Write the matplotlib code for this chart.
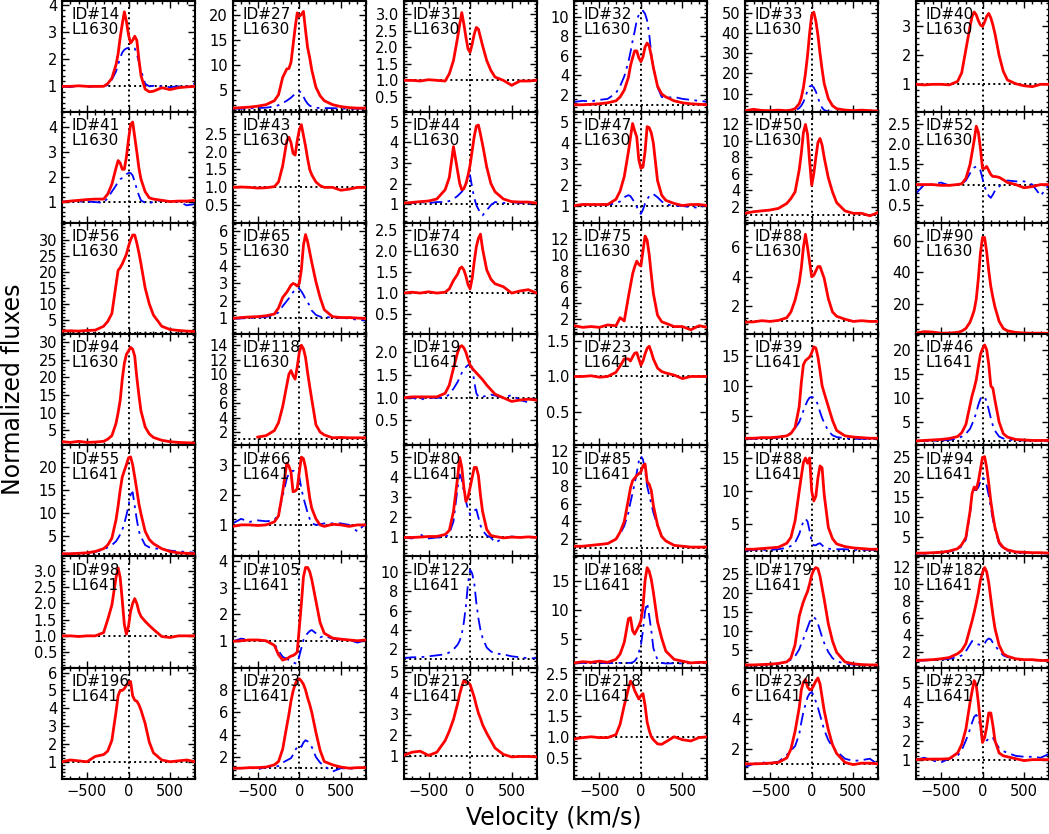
import numpy as np
import matplotlib
matplotlib.use("Agg")
import matplotlib.pyplot as plt
from matplotlib.ticker import MultipleLocator, AutoMinorLocator, FormatStrFormatter

nan = np.nan

# velocity grid (km/s) shared by all profiles
V = [-800, -700, -600, -500, -400, -300,
     -250, -200, -150, -125, -100, -75, -50, -25, 0, 25, 50, 75, 100, 125, 150, 200, 250,
     300, 400, 500, 600, 700, 800]

# ---- L1630 ----
red_14_1630 = [1.0, 1.0, 1.02, 1.0, 1.0, 1.0,
               1.1, 1.3, 1.8, 2.2, 2.8, 3.3, 3.75, 3.4, 2.9, 2.6, 2.7, 2.85, 2.7, 2.0, 1.4, 0.9, 0.8,
               0.82, 0.95, 0.88, 0.95, 0.98, 1.0]
blue_14_1630 = [1.0, 0.97, 1.03, 0.98, 1.0, 1.0,
                1.05, 1.25, 1.55, 1.8, 2.05, 2.25, 2.35, 2.4, 2.42, 2.45, 2.45, 2.4, 2.2, 1.9, 1.6, 1.1, 1.0,
                1.02, 1.0, 0.97, 1.0, 1.0, 1.1]
red_27_1630 = [1.3, 1.4, 1.5, 1.7, 2.0, 2.8,
               4.0, 7.5, 9.2, 9.3, 10.5, 14.0, 17.5, 20.5, 19.8, 20.2, 20.8, 17.0, 13.5, 11.5, 9.0, 5.5, 3.8,
               2.8, 2.0, 1.6, 1.4, 1.3, 1.3]
blue_27_1630 = [1.2, 1.2, 1.3, 1.3, 1.4, 1.6,
                1.9, 2.3, 2.8, 3.1, 3.4, 3.8, 4.2, 4.5, 4.7, 4.4, 3.6, 2.8, 2.2, 1.8, 1.6, 1.4, 1.3,
                1.3, 1.3, 1.2, 1.2, 1.2, 1.2]
red_31_1630 = [1.0, 1.0, 0.98, 1.02, 1.0, 0.98,
               1.2, 1.6, 2.3, 2.7, 3.05, 2.7, 2.3, 1.95, 1.85, 2.1, 2.4, 2.6, 2.55, 2.3, 2.05, 1.6, 1.3,
               1.1, 1.0, 0.85, 0.98, 0.98, 1.0]
red_32_1630 = [1.0, 1.0, 1.05, 1.1, 1.2, 1.4,
               1.8, 2.5, 3.8, 5.0, 5.8, 6.5, 6.5, 5.8, 5.4, 5.9, 6.9, 7.3, 7.0, 6.0, 4.8, 2.9, 2.1,
               1.8, 1.4, 1.2, 1.1, 1.05, 1.0]
blue_32_1630 = [1.3, 1.4, 1.35, 1.5, 1.6, 2.2,
                2.9, 3.9, 5.4, 6.4, 7.5, 8.5, 9.6, 10.2, 10.5, 10.6, 10.3, 9.6, 8.2, 6.2, 4.8, 2.8, 1.8,
                1.7, 1.8, 1.6, 1.5, 1.4, 1.3]
red_33_1630 = [1.5, 2.2, 1.6, 1.5, 1.8, 1.5,
               1.8, 2.5, 5.0, 8.0, 13.0, 20.0, 29.0, 40.0, 49.0, 50.5, 46.0, 39.0, 30.0, 22.0, 15.0, 7.5, 4.0,
               2.5, 1.8, 1.5, 1.8, 1.5, 1.3]
blue_33_1630 = [1.0, 1.0, 1.0, 1.0, 1.0, 1.0,
                1.1, 1.4, 2.8, 4.0, 5.8, 8.5, 11.5, 13.5, 14.0, 13.0, 11.0, 8.0, 5.0, 3.0, 1.8, 1.1, 1.0,
                1.0, 1.0, 1.0, 1.0, 1.0, 1.0]
red_40_1630 = [1.0, 0.98, 1.0, 1.0, 0.98, 1.1,
               1.4, 2.2, 3.0, 3.35, 3.5, 3.4, 3.2, 3.05, 3.0, 3.15, 3.35, 3.45, 3.3, 3.05, 2.75, 2.0, 1.45,
               1.15, 1.02, 0.95, 0.92, 1.0, 1.0]
red_41_1630 = [0.98, 1.02, 1.05, 1.08, 1.1, 1.1,
               1.3, 1.7, 2.35, 2.65, 2.55, 2.3, 2.3, 2.8, 3.5, 4.1, 4.2, 3.6, 3.0, 2.35, 1.9, 1.4, 1.15,
               1.1, 1.05, 1.0, 1.02, 1.02, 1.05]
blue_41_1630 = [1.0, 1.02, 1.0, 1.0, 0.98, 0.95,
                1.15, 1.4, 1.65, 1.8, 1.9, 1.95, 2.0, 2.1, 2.15, 2.15, 2.05, 1.8, 1.5, 1.25, 1.05, 0.95, 0.92,
                1.0, 1.05, 1.0, 1.0, 0.85, 0.9]
red_43_1630 = [1.0, 1.01, 1.0, 0.98, 0.99, 1.02,
               1.15, 1.6, 2.3, 2.4, 2.25, 1.95, 1.9, 2.3, 2.6, 2.75, 2.45, 2.15, 1.8, 1.5, 1.35, 1.15, 1.05,
               1.0, 1.0, 0.92, 0.95, 1.0, 1.0]
red_44_1630 = [1.05, 1.08, 1.12, 1.15, 1.25, 1.7,
               2.3, 3.8, 2.6, 2.0, 1.7, 1.75, 2.0, 2.4, 2.9, 3.6, 4.3, 4.8, 4.85, 4.4, 3.9, 2.8, 2.0,
               1.6, 1.25, 1.12, 1.1, 1.1, 1.05]
blue_44_1630 = [1.05, 1.05, 1.1, 1.05, 1.1, 1.1,
                1.15, 1.25, 1.4, 1.5, 1.6, 1.75, 1.95, 2.3, 2.4, 1.8, 1.3, 0.95, 0.75, 0.55, 0.45, 0.7, 0.95,
                1.1, 1.05, 1.1, 1.05, 1.05, 0.9]
red_47_1630 = [1.0, 1.05, 1.05, 1.05, 1.05, 1.3,
               1.7, 2.4, 3.6, 4.3, 4.95, 4.6, 4.3, 3.2, 2.8, 2.85, 3.6, 4.8, 4.75, 4.5, 4.0, 2.2, 1.5,
               1.25, 1.1, 1.0, 1.05, 1.05, 1.0]
blue_47_1630 = [1.0, 1.05, 1.05, 1.05, 1.05, 1.1,
                1.2, 1.4, 1.5, 1.45, 1.3, 1.15, 0.95, 0.7, 0.6, 0.8, 1.1, 1.3, 1.45, 1.55, 1.55, 1.4, 1.2,
                1.05, 1.0, 0.98, 0.92, 0.9, 1.05]
red_50_1630 = [1.2, 1.4, 1.5, 1.6, 1.8, 2.4,
               3.0, 3.8, 6.5, 8.5, 11.0, 12.0, 10.8, 7.5, 4.6, 6.0, 8.0, 9.8, 10.3, 9.5, 8.0, 5.5, 3.8,
               2.5, 1.5, 1.2, 1.2, 0.9, 1.3]
red_52_1630 = [1.0, 1.0, 1.0, 0.98, 0.98, 1.0,
               1.02, 1.15, 1.5, 1.8, 2.1, 2.45, 2.3, 1.9, 1.4, 1.4, 1.45, 1.35, 1.25, 1.2, 1.2, 1.18, 1.12,
               1.05, 1.0, 0.92, 0.95, 1.0, 1.0]
blue_52_1630 = [0.78, 1.0, 1.0, 1.05, 0.98, 1.0,
                1.02, 1.1, 1.28, 1.35, 1.42, 1.45, 1.43, 1.35, 1.15, 0.95, 0.82, 0.72, 0.67, 0.75, 0.85, 0.95, 1.05,
                1.1, 1.08, 1.08, 1.0, 0.72, 1.0]
red_56_1630 = [1.5, 1.6, 1.5, 1.7, 1.8, 3.0,
               4.5, 7.0, 16.0, 20.5, 21.3, 22.5, 24.0, 25.5, 28.0, 30.0, 31.5, 31.5, 29.0, 26.0, 22.5, 15.0, 10.0,
               6.5, 3.0, 2.0, 1.7, 1.5, 1.4]
red_65_1630 = [1.0, 1.05, 1.08, 1.1, 1.15, 1.25,
               1.6, 2.2, 2.5, 2.7, 2.9, 3.0, 2.95, 2.85, 3.0, 3.8, 5.2, 5.8, 5.4, 4.8, 4.2, 3.1, 2.2,
               1.5, 1.1, 1.05, 1.05, 1.02, 1.0]
blue_65_1630 = [0.98, 1.0, 1.02, 1.05, 1.08, 1.2,
                1.35, 1.7, 2.0, 2.15, 2.35, 2.5, 2.65, 2.75, 2.7, 2.55, 2.35, 2.1, 1.95, 1.7, 1.45, 1.2, 1.1,
                1.08, 1.05, 1.03, 1.0, 0.92, 0.88]
red_74_1630 = [1.0, 1.02, 1.0, 1.03, 1.0, 1.02,
               1.1, 1.3, 1.45, 1.58, 1.62, 1.55, 1.4, 1.2, 1.1, 1.35, 1.75, 2.1, 2.3, 2.4, 2.05, 1.55, 1.33,
               1.22, 1.15, 1.0, 1.05, 1.08, 1.0]
red_75_1630 = [1.2, 1.0, 1.1, 1.0, 1.3, 1.2,
               2.2, 1.8, 4.8, 6.2, 7.6, 8.5, 9.2, 8.8, 8.6, 10.5, 12.3, 11.8, 10.0, 7.5, 5.2, 2.5, 1.7,
               1.5, 1.1, 1.1, 0.7, 1.2, 1.0]
red_88_1630 = [0.9, 0.92, 1.0, 0.95, 1.02, 1.2,
               1.6, 2.4, 3.6, 4.6, 6.0, 6.9, 6.0, 5.0, 4.0, 4.1, 4.4, 4.7, 4.7, 4.3, 3.9, 2.5, 1.6,
               1.3, 1.1, 0.95, 1.0, 0.95, 0.95]
red_90_1630 = [1.5, 2.5, 2.2, 1.5, 1.6, 2.0,
               2.8, 4.5, 8.5, 12.0, 16.0, 23.0, 36.0, 52.0, 62.0, 62.0, 53.0, 41.0, 31.0, 24.0, 18.0, 9.0, 4.5,
               3.0, 2.0, 1.6, 1.5, 1.5, 1.4]
red_94_1630 = [1.8, 1.6, 1.9, 1.6, 1.7, 1.9,
               2.5, 3.5, 7.0, 10.0, 13.5, 19.5, 24.0, 26.5, 27.5, 28.5, 28.0, 26.0, 20.0, 15.0, 10.5, 6.0, 4.0,
               3.0, 2.2, 1.8, 1.6, 1.5, 1.4]
red_118_1630 = [nan, nan, nan, 1.3, 1.5, 2.2,
                3.3, 5.5, 8.5, 10.0, 10.5, 9.8, 9.3, 11.0, 13.0, 14.0, 13.5, 12.3, 10.2, 8.3, 6.5, 3.0, 2.0,
                1.6, 1.2, 1.25, 1.2, 1.2, 1.2]

# ---- L1641 ----
red_19_1641 = [1.0, 1.02, 1.02, 1.02, 1.02, 1.1,
               1.28, 1.65, 2.0, 2.12, 2.15, 2.1, 2.0, 1.85, 1.72, 1.65, 1.6, 1.55, 1.5, 1.45, 1.4, 1.28, 1.18,
               1.08, 1.0, 0.92, 0.95, 0.97, 0.95]
blue_19_1641 = [1.0, 1.0, 0.96, 1.0, 1.0, 1.0,
                1.08, 1.2, 1.35, 1.45, 1.55, 1.62, 1.68, 1.72, 1.72, 1.68, 1.35, 1.1, 1.02, 1.0, 1.02, 1.05, 1.07,
                1.05, 1.0, 1.06, 0.95, 0.9, 1.04]
red_23_1641 = [1.0, 1.0, 1.01, 0.99, 1.0, 1.06,
               1.15, 1.25, 1.25, 1.22, 1.28, 1.33, 1.34, 1.25, 1.16, 1.22, 1.32, 1.4, 1.43, 1.35, 1.25, 1.12, 1.07,
               1.05, 1.02, 0.97, 1.0, 1.0, 1.0]
red_39_1641 = [1.2, 1.2, 1.3, 1.3, 1.4, 1.6,
               2.0, 3.0, 6.5, 10.5, 13.5, 14.2, 14.5, 14.8, 15.5, 16.5, 16.3, 14.8, 12.5, 10.0, 8.8, 6.5, 4.2,
               2.5, 1.6, 1.4, 1.3, 1.2, 1.2]
blue_39_1641 = [1.1, 1.1, 1.2, 1.2, 1.3, 1.7,
                2.1, 2.9, 3.9, 4.8, 5.8, 6.7, 7.5, 8.0, 8.1, 8.0, 7.6, 6.8, 5.6, 4.6, 3.8, 2.4, 1.7,
                1.4, 1.2, 1.1, 1.1, 1.1, 1.1]
red_46_1641 = [1.1, 1.2, 1.3, 1.4, 1.6, 2.0,
               2.8, 4.5, 8.5, 10.5, 12.0, 13.8, 16.5, 19.0, 20.2, 21.0, 20.0, 17.0, 12.5, 12.0, 9.5, 5.0, 2.6,
               1.9, 1.4, 1.3, 1.2, 1.2, 1.2]
blue_46_1641 = [1.1, 1.1, 1.1, 1.2, 1.3, 1.6,
                2.0, 2.6, 3.6, 4.6, 5.6, 7.0, 8.6, 9.8, 10.4, 10.2, 9.3, 7.6, 5.8, 4.3, 3.2, 2.0, 1.6,
                1.4, 1.2, 1.2, 1.2, 1.1, 1.1]
red_55_1641 = [1.1, 1.1, 1.2, 1.3, 1.6, 2.2,
               3.0, 4.5, 8.5, 11.5, 15.0, 17.8, 19.2, 20.5, 22.0, 22.2, 20.5, 17.8, 15.0, 12.0, 9.8, 6.0, 4.2,
               3.3, 2.2, 1.6, 1.3, 1.2, 1.1]
blue_55_1641 = [1.1, 1.1, 1.2, 1.3, 1.5, 2.0,
                2.5, 3.0, 3.8, 4.5, 5.3, 6.3, 7.7, 9.5, 11.5, 14.0, 14.5, 11.5, 8.5, 6.0, 4.8, 3.0, 2.5,
                2.3, 2.1, 1.8, 1.6, 1.5, 1.3]
red_66_1641 = [0.95, 1.0, 1.0, 0.98, 1.0, 1.1,
               1.3, 2.1, 3.05, 2.95, 2.75, 2.1, 2.12, 2.2, 2.75, 3.25, 3.2, 2.9, 2.4, 1.9, 1.55, 1.2, 1.0,
               0.95, 1.02, 1.0, 0.95, 1.0, 1.0]
blue_66_1641 = [1.05, 1.2, 1.1, 1.15, 1.12, 1.15,
                1.4, 1.95, 2.55, 2.7, 2.78, 2.8, 2.78, 2.75, 2.6, 2.2, 1.9, 1.65, 1.4, 1.2, 1.05, 1.0, 1.02,
                1.05, 1.05, 1.05, 1.0, 0.78, 1.05]
red_80_1641 = [1.0, 1.0, 1.02, 1.05, 1.05, 1.15,
               1.35, 2.3, 4.0, 5.0, 4.5, 3.5, 2.8, 3.0, 3.5, 4.0, 4.5, 4.5, 4.1, 3.1, 2.3, 1.4, 1.1,
               1.05, 0.98, 1.02, 1.0, 1.03, 1.0]
blue_80_1641 = [1.0, 0.95, 1.15, 0.95, 1.0, 1.0,
                1.2, 1.8, 3.5, 4.15, 3.9, 3.3, 2.8, 2.4, 2.15, 2.2, 2.35, 2.4, 2.0, 1.6, 1.35, 1.1, 1.0,
                0.75, 0.95, 1.05, 1.0, 1.05, 1.0]
red_85_1641 = [1.2, 1.2, 1.3, 1.4, 1.5, 2.0,
               2.8, 4.0, 6.5, 7.8, 8.6, 8.9, 9.2, 9.4, 9.6, 10.3, 10.5, 8.5, 8.2, 7.5, 5.8, 3.6, 2.3,
               1.8, 1.3, 1.2, 1.1, 1.1, 1.1]
blue_85_1641 = [1.2, 1.2, 1.3, 1.4, 1.5, 2.0,
                2.6, 3.5, 5.0, 6.2, 7.2, 8.3, 9.5, 10.8, 11.4, 11.0, 9.8, 8.0, 7.0, 6.0, 5.0, 3.5, 2.3,
                1.8, 1.3, 1.2, 1.1, 1.1, 1.1]
red_88_1641 = [1.2, 1.2, 1.3, 1.4, 1.5, 2.1,
               3.0, 5.5, 10.0, 12.2, 14.3, 15.0, 14.2, 15.0, 10.0, 8.5, 9.2, 12.0, 13.8, 13.5, 9.5, 4.5, 2.8,
               2.0, 1.6, 1.4, 1.3, 1.2, 1.2]
blue_88_1641 = [1.0, 1.1, 1.1, 1.1, 1.2, 1.4,
                1.7, 2.2, 3.5, 4.5, 5.4, 5.8, 5.4, 4.0, 2.3, 1.8, 1.8, 2.0, 2.1, 1.8, 1.5, 1.3, 1.2,
                1.2, 1.2, 1.1, 1.1, 1.1, 1.1]
red_94_1641 = [1.1, 1.1, 1.2, 1.3, 1.6, 2.2,
               3.2, 5.0, 11.5, 16.0, 17.6, 17.0, 19.0, 22.0, 25.0, 25.2, 22.5, 18.5, 14.0, 10.5, 7.5, 3.8, 2.5,
               1.9, 1.4, 1.3, 1.2, 1.2, 1.1]
blue_94_1641 = [1.0, 1.0, 1.1, 1.2, 1.5, 2.0,
                2.8, 4.5, 11.0, 15.5, 17.0, 16.8, 17.5, 19.0, 20.0, 19.5, 18.0, 15.5, 12.5, 9.5, 7.0, 3.5, 2.2,
                1.7, 1.3, 1.2, 1.1, 1.1, 1.0]
red_98_1641 = [1.0, 1.0, 0.98, 1.0, 1.0, 1.1,
               1.5, 1.95, 2.8, 3.1, 2.8, 2.1, 1.35, 1.05, 1.3, 1.75, 2.0, 2.15, 2.0, 1.75, 1.6, 1.45, 1.32,
               1.2, 0.98, 0.95, 1.0, 1.0, 1.0]
red_105_1641 = [1.0, 1.02, 1.05, 1.05, 1.02, 0.85,
                0.5, 0.3, 0.35, 0.4, 0.45, 0.47, 0.52, 0.6, 1.5, 2.4, 3.4, 3.75, 3.75, 3.6, 3.3, 2.5, 1.7,
                1.3, 1.12, 1.08, 1.05, 1.02, 1.05]
blue_105_1641 = [1.0, 1.1, 1.05, 1.05, 1.0, 0.9,
                 0.65, 0.42, 0.35, 0.3, 0.26, 0.22, 0.18, 0.17, 0.45, 0.75, 1.05, 1.2, 1.3, 1.38, 1.42, 1.3, 1.15,
                 1.2, 1.1, 1.05, 1.05, 0.95, 1.05]
blue_122_1641 = [1.1, 1.2, 1.2, 1.3, 1.4, 1.5,
                 1.7, 2.0, 2.5, 2.9, 3.6, 4.8, 6.5, 8.8, 10.2, 9.8, 8.8, 6.8, 5.2, 4.0, 3.2, 2.2, 1.8,
                 1.6, 1.5, 1.3, 1.2, 1.1, 1.1]
red_168_1641 = [1.0, 1.2, 1.1, 1.3, 1.1, 1.6,
                2.5, 4.5, 8.5, 8.7, 6.5, 5.9, 6.6, 7.3, 8.2, 10.5, 15.0, 17.2, 16.6, 15.2, 13.0, 8.0, 5.2,
                3.0, 1.6, 1.3, 1.0, 1.1, 1.1]
blue_168_1641 = [0.9, 1.0, 0.95, 1.0, 0.95, 1.0,
                 1.0, 1.0, 1.0, 1.0, 1.1, 1.3, 1.8, 2.8, 4.0, 6.5, 9.8, 11.2, 9.0, 6.5, 3.5, 1.5, 1.0,
                 0.9, 0.95, 0.9, 0.95, 1.0, 0.95]
red_179_1641 = [1.2, 1.2, 1.3, 1.4, 1.6, 2.0,
                3.0, 6.5, 14.0, 16.0, 17.8, 19.2, 20.5, 22.5, 24.8, 26.2, 26.8, 26.5, 24.5, 21.5, 18.5, 12.0, 7.5,
                4.5, 2.0, 1.5, 1.3, 1.2, 1.2]
blue_179_1641 = [1.1, 1.1, 1.2, 1.3, 1.5, 2.0,
                 2.6, 3.5, 5.3, 6.8, 8.0, 9.5, 11.0, 12.5, 13.5, 13.8, 13.2, 12.0, 10.3, 8.5, 7.0, 4.6, 3.0,
                 2.2, 1.5, 1.3, 1.2, 1.1, 1.1]
red_182_1641 = [1.0, 1.05, 1.1, 1.2, 1.35, 1.8,
                2.2, 3.0, 4.8, 5.7, 6.7, 7.8, 9.0, 10.5, 11.4, 12.0, 11.5, 10.2, 8.3, 6.4, 4.8, 2.8, 1.8,
                1.5, 1.2, 1.1, 1.1, 1.0, 1.0]
blue_182_1641 = [1.0, 1.0, 1.05, 1.1, 1.2, 1.4,
                 1.6, 2.1, 2.9, 3.3, 3.2, 3.0, 2.9, 2.85, 2.8, 3.0, 3.4, 3.6, 3.5, 3.1, 2.8, 2.1, 1.6,
                 1.4, 1.2, 1.1, 1.05, 1.0, 1.0]
red_196_1641 = [1.0, 1.1, 1.05, 1.0, 1.3, 1.4,
                1.6, 2.2, 3.8, 4.7, 5.0, 5.0, 5.1, 5.3, 5.45, 5.5, 4.7, 4.45, 4.4, 4.2, 3.9, 3.15, 2.1,
                1.5, 1.1, 1.0, 1.05, 1.1, 1.0]
red_203_1641 = [1.0, 1.0, 1.05, 1.05, 1.1, 1.3,
                1.6, 2.7, 4.8, 5.8, 7.0, 7.9, 8.5, 8.9, 9.0, 8.8, 8.5, 8.0, 7.3, 6.7, 6.0, 4.2, 2.6,
                1.6, 1.3, 1.1, 1.0, 1.05, 1.05]
blue_203_1641 = [1.0, 1.0, 1.05, 0.9, 1.1, 1.1,
                 1.2, 1.5, 1.7, 1.8, 1.9, 2.2, 2.6, 2.9, 3.1, 2.9, 3.3, 3.5, 3.4, 3.2, 2.9, 2.0, 1.5,
                 1.2, 0.7, 1.0, 0.95, 1.0, 1.05]
red_213_1641 = [1.05, 1.2, 1.25, 1.05, 1.2, 1.75,
                2.2, 2.75, 3.5, 3.95, 4.3, 4.6, 4.5, 4.5, 4.4, 4.1, 3.8, 3.4, 3.05, 2.8, 2.5, 2.1, 1.75,
                1.4, 1.1, 0.98, 1.0, 1.0, 0.98]
red_218_1641 = [0.95, 0.98, 1.0, 0.98, 0.98, 1.05,
                1.3, 1.75, 2.15, 2.33, 2.25, 2.1, 2.0, 1.9, 1.98, 2.03, 1.75, 1.35, 1.15, 1.0, 0.93, 0.83, 0.82,
                0.88, 1.0, 0.93, 0.9, 0.98, 1.0]
red_234_1641 = [1.0, 1.0, 1.02, 1.05, 1.1, 1.4,
                2.0, 3.2, 4.8, 6.0, 6.5, 6.7, 6.2, 6.0, 6.05, 6.3, 6.6, 6.8, 6.4, 5.5, 4.6, 3.3, 2.3,
                1.7, 1.1, 0.95, 1.05, 1.05, 1.0]
blue_234_1641 = [0.8, 1.0, 1.1, 1.05, 1.15, 1.6,
                 1.9, 2.2, 3.0, 3.8, 4.5, 5.0, 5.5, 5.75, 5.85, 5.6, 5.2, 4.8, 4.3, 3.8, 3.3, 2.6, 2.15,
                 1.85, 1.35, 1.2, 1.25, 1.35, 0.95]
red_237_1641 = [1.0, 1.02, 1.03, 1.03, 1.05, 1.35,
                1.8, 2.6, 4.0, 4.6, 5.15, 4.9, 4.0, 2.9, 1.9, 2.15, 2.7, 3.45, 3.45, 2.8, 2.0, 1.35, 1.2,
                1.15, 1.05, 0.95, 1.0, 1.0, 1.0]
blue_237_1641 = [1.0, 1.1, 0.95, 0.85, 1.05, 1.2,
                 1.5, 2.0, 2.6, 2.95, 3.25, 3.35, 3.2, 2.7, 1.95, 1.85, 2.0, 2.1, 2.2, 2.15, 1.95, 1.6, 1.45,
                 1.35, 1.2, 1.15, 1.15, 1.1, 1.3]

# panel labels, row by row
ids = [14, 27, 31, 32, 33, 40,
       41, 43, 44, 47, 50, 52,
       56, 65, 74, 75, 88, 90,
       94, 118, 19, 23, 39, 46,
       55, 66, 80, 85, 88, 94,
       98, 105, 122, 168, 179, 182,
       196, 203, 213, 218, 234, 237]
clouds = ["L1630"] * 20 + ["L1641"] * 22

reds = [red_14_1630, red_27_1630, red_31_1630, red_32_1630, red_33_1630, red_40_1630,
        red_41_1630, red_43_1630, red_44_1630, red_47_1630, red_50_1630, red_52_1630,
        red_56_1630, red_65_1630, red_74_1630, red_75_1630, red_88_1630, red_90_1630,
        red_94_1630, red_118_1630, red_19_1641, red_23_1641, red_39_1641, red_46_1641,
        red_55_1641, red_66_1641, red_80_1641, red_85_1641, red_88_1641, red_94_1641,
        red_98_1641, red_105_1641, None, red_168_1641, red_179_1641, red_182_1641,
        red_196_1641, red_203_1641, red_213_1641, red_218_1641, red_234_1641, red_237_1641]
blues = [blue_14_1630, blue_27_1630, None, blue_32_1630, blue_33_1630, None,
         blue_41_1630, None, blue_44_1630, blue_47_1630, None, blue_52_1630,
         None, blue_65_1630, None, None, None, None,
         None, None, blue_19_1641, None, blue_39_1641, blue_46_1641,
         blue_55_1641, blue_66_1641, blue_80_1641, blue_85_1641, blue_88_1641, blue_94_1641,
         None, blue_105_1641, blue_122_1641, blue_168_1641, blue_179_1641, blue_182_1641,
         None, blue_203_1641, None, None, blue_234_1641, blue_237_1641]

# y ranges and y tick values for each panel
yranges = [(0.05, 4.15), (0.5, 22.9), (0.04, 3.4), (0.25, 11.6), (0.8, 56), (0.04, 3.88),
           (0.13, 4.6), (0.0, 3.1), (0.07, 5.48), (0.15, 5.5), (0.0, 13.5), (0.04, 2.8),
           (0.5, 35.2), (0.09, 6.45), (0.02, 2.66), (0.14, 13.9), (0.07, 7.66), (0.8, 71),
           (0.75, 32.2), (0.15, 15.5), (-0.05, 2.4), (0.02, 1.6), (0.0, 18.6), (0.17, 23.2),
           (0.5, 24.7), (-0.05, 3.64), (0.05, 5.6), (0.04, 12.6), (0.1, 16.9), (0.25, 28),
           (0.02, 3.45), (0.02, 4.16), (0.14, 11.55), (0.2, 19.1), (0.5, 29.7), (0.16, 13.3),
           (0.05, 6.28), (0.06, 10.0), (-0.05, 5.2), (0.0, 2.65), (0.0, 7.5), (0.0, 5.83)]
half = [0.5, 1.0, 1.5, 2.0, 2.5, 3.0]
ytick_sets = [[1, 2, 3, 4], [5, 10, 15, 20], half, [2, 4, 6, 8, 10], [10, 20, 30, 40, 50], [1, 2, 3],
              [1, 2, 3, 4], half[:5], [1, 2, 3, 4, 5], [1, 2, 3, 4, 5], [2, 4, 6, 8, 10, 12], half[:5],
              [5, 10, 15, 20, 25, 30], [1, 2, 3, 4, 5, 6], half[:5], [2, 4, 6, 8, 10, 12], [2, 4, 6], [20, 40, 60],
              [5, 10, 15, 20, 25, 30], [2, 4, 6, 8, 10, 12, 14], half[:4], half[:3], [5, 10, 15], [5, 10, 15, 20],
              [5, 10, 15, 20], [1, 2, 3], [1, 2, 3, 4, 5], [2, 4, 6, 8, 10, 12], [5, 10, 15], [5, 10, 15, 20, 25],
              half, [1, 2, 3, 4], [2, 4, 6, 8, 10], [5, 10, 15], [5, 10, 15, 20, 25], [2, 4, 6, 8, 10, 12],
              [1, 2, 3, 4, 5, 6], [2, 4, 6, 8], [1, 2, 3, 4, 5], half[:5], [2, 4, 6], [1, 2, 3, 4, 5]]

W, H = 1049, 834
fig = plt.figure(figsize=(W / 100, H / 100), dpi=100)

x0, dx, pw = 62, 170.8, 133
y0, ph = 1, 111.1

for k in range(42):
    r, c = divmod(k, 6)
    ax = fig.add_axes([(x0 + c * dx) / W, 1 - (y0 + (r + 1) * ph) / H, pw / W, ph / H])

    ax.axhline(1.0, color="k", ls=":", lw=1.4, zorder=1)
    ax.axvline(0.0, color="k", ls=":", lw=1.4, zorder=1)
    if blues[k] is not None:
        ax.plot(V, blues[k], color="blue", lw=1.3, ls=(0, (7, 3, 1.5, 3)), zorder=2)
    if reds[k] is not None:
        ax.plot(V, reds[k], color="red", lw=2.0, zorder=3)

    ax.set_xlim(-800, 800)
    ax.set_ylim(*yranges[k])
    ax.xaxis.set_major_locator(MultipleLocator(500))
    ax.xaxis.set_minor_locator(MultipleLocator(100))
    ticks = ytick_sets[k]
    ax.set_yticks(ticks)
    ax.yaxis.set_minor_locator(AutoMinorLocator(5))
    if ticks[1] - ticks[0] < 1:
        ax.yaxis.set_major_formatter(FormatStrFormatter("%.1f"))
    else:
        ax.yaxis.set_major_formatter(FormatStrFormatter("%d"))

    ax.tick_params(which="both", direction="in", top=True, right=True, labelsize=10.5, width=1.0)
    ax.tick_params(which="major", length=5)
    ax.tick_params(which="minor", length=2.5)
    ax.tick_params(axis="x", labelbottom=(r == 6))
    for s in ax.spines.values():
        s.set_linewidth(1.5)

    ax.text(0.07, 0.945, f"ID#{ids[k]}\n{clouds[k]}", transform=ax.transAxes,
            ha="left", va="top", fontsize=11, linespacing=1.0)

fig.text(0.012, 0.533, "Normalized fluxes", rotation=90, ha="center", va="center", fontsize=17)
fig.text(0.528, 0.019, "Velocity (km/s)", ha="center", va="center", fontsize=17)

fig.savefig("out.png", dpi=100)
